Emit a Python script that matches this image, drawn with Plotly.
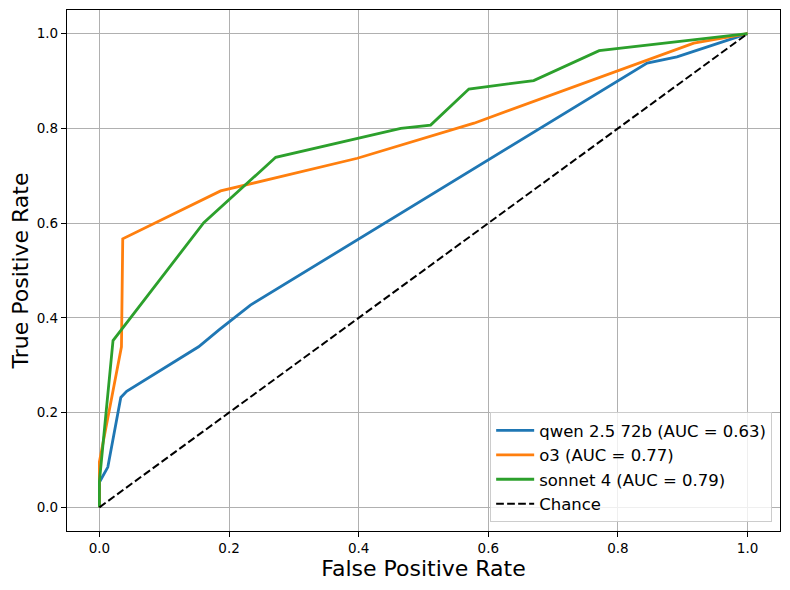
import plotly.graph_objects as go

qwen_fpr = [0.0, 0.0, 0.013, 0.033, 0.042, 0.153, 0.185, 0.233, 0.845, 0.891, 1.0]
qwen_tpr = [0.0, 0.053, 0.085, 0.232, 0.245, 0.339, 0.375, 0.427, 0.938, 0.951, 1.0]

o3_fpr = [0.0, 0.0, 0.034, 0.036, 0.187, 0.398, 0.578, 0.845, 0.917, 1.0]
o3_tpr = [0.0, 0.096, 0.339, 0.567, 0.668, 0.737, 0.811, 0.944, 0.980, 1.0]

sonnet_fpr = [0.0, 0.0, 0.021, 0.161, 0.272, 0.465, 0.511, 0.570, 0.670, 0.771, 1.0]
sonnet_tpr = [0.0, 0.055, 0.352, 0.601, 0.739, 0.800, 0.807, 0.883, 0.901, 0.964, 1.0]

chance = [0.0, 1.0]

names = ["qwen 2.5 72b (AUC = 0.63)", "o3 (AUC = 0.77)", "sonnet 4 (AUC = 0.79)", "Chance"]
colors = ["#1f77b4", "#ff7f0e", "#2ca02c", "black"]

fig = go.Figure()
for xs, ys, nm, c in [(qwen_fpr, qwen_tpr, names[0], colors[0]),
                      (o3_fpr, o3_tpr, names[1], colors[1]),
                      (sonnet_fpr, sonnet_tpr, names[2], colors[2])]:
    fig.add_trace(go.Scatter(x=xs, y=ys, mode="lines", name=nm,
                             line=dict(color=c, width=2.8)))
fig.add_trace(go.Scatter(x=chance, y=chance, mode="lines", name=names[3],
                         line=dict(color=colors[3], width=2, dash="7.7px,3.3px")))

axis_common = dict(
    showgrid=True, gridcolor="#b0b0b0", gridwidth=1,
    zeroline=False, showline=True, linecolor="black", linewidth=1.2, mirror=True,
    ticks="outside", ticklen=5, tickcolor="black", tickwidth=1,
    tickformat=".1f", tickfont=dict(family="DejaVu Sans", size=13.5, color="black"),
)

fig.update_xaxes(range=[-0.05, 1.05], dtick=0.2, tick0=0,
                 title=dict(text="False Positive Rate", font=dict(family="DejaVu Sans", size=22, color="black"), standoff=5),
                 **axis_common)
fig.update_yaxes(range=[-0.05, 1.05], dtick=0.2, tick0=0,
                 title=dict(text="True Positive Rate", font=dict(family="DejaVu Sans", size=22, color="black"), standoff=7),
                 **axis_common)

fig.update_layout(
    width=782, height=582,
    margin=dict(l=59, r=10, t=2, b=59),
    plot_bgcolor="white", paper_bgcolor="white",
    font=dict(family="DejaVu Sans", color="black"),
    legend=dict(x=0.989, y=0.017, xanchor="right", yanchor="bottom",
                bgcolor="rgba(255,255,255,0.8)", bordercolor="#cccccc", borderwidth=1,
                font=dict(family="DejaVu Sans", size=16.5, color="black"),
                itemwidth=38, tracegroupgap=0),
)

fig.write_html("out.html")
